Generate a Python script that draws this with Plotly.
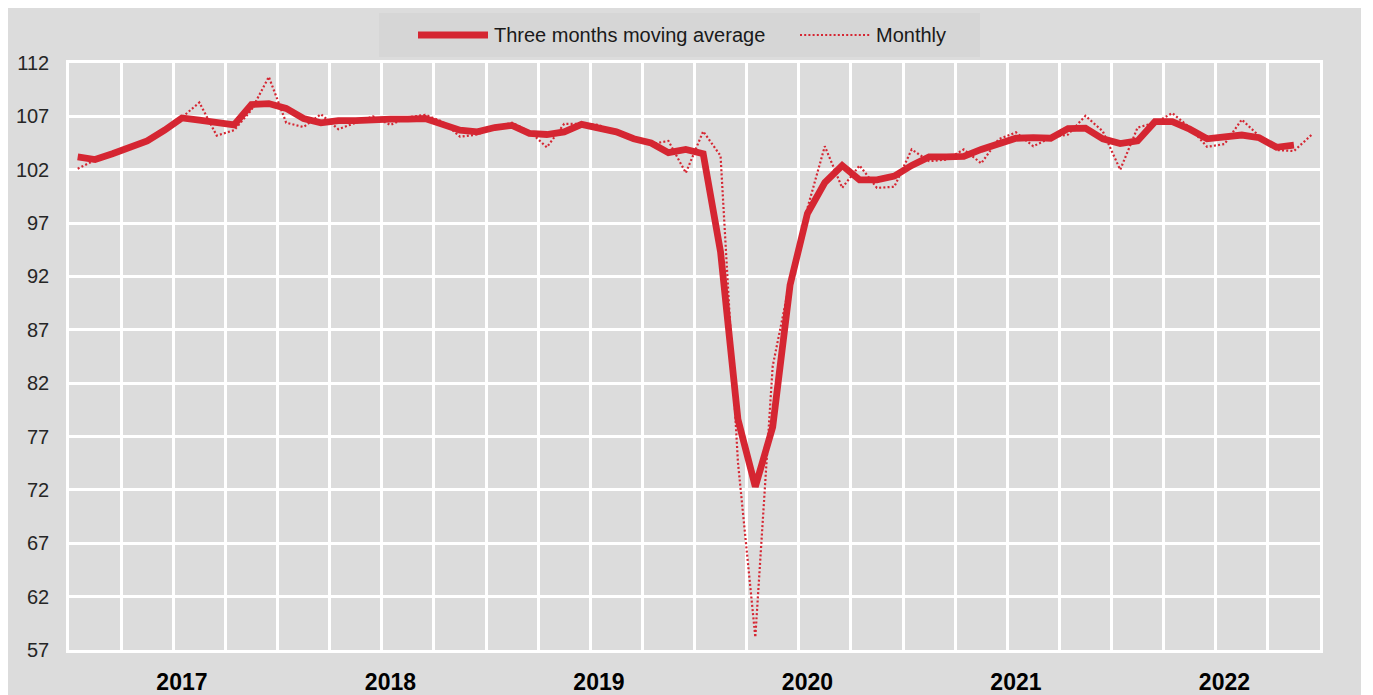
import plotly.graph_objects as go

# ---- data ----
months = [f"{y}-{m:02d}" for y in range(2017, 2023) for m in range(1, 13)]

monthly = [
    102.1, 102.9, 103.6, 104.1, 104.8, 105.6, 106.9, 108.3, 105.2, 105.7, 107.6, 110.7,
    106.4, 106.0, 107.2, 105.8, 106.4, 107.0, 106.2, 106.9, 107.15, 106.5, 105.1, 105.3,
    106.0, 106.4, 105.6, 104.1, 106.3, 106.3, 106.2, 105.4, 105.0, 104.4, 104.7, 101.7,
    105.6, 103.3, 74.6, 58.2, 83.6, 91.6, 98.4, 104.2, 100.3, 102.4, 100.3, 100.4,
    103.9, 102.8, 102.95, 103.9, 102.6, 104.85, 105.5, 104.2, 105.0, 105.3, 107.05, 105.6,
    102.0, 105.95, 106.4, 107.3, 105.95, 104.15, 104.4, 106.7, 105.15, 103.85, 103.75, 105.25,
]

moving_avg = [
    103.2, 102.95, 103.5, 104.05, 104.7, 105.7, 106.85, 106.65, 106.4, 106.2, 108.1, 108.2,
    107.75, 106.8, 106.4, 106.6, 106.6, 106.75, 106.75, 106.75, 106.8, 106.25, 105.7, 105.55,
    105.95, 106.15, 105.4, 105.3, 105.55, 106.25, 105.95, 105.55, 104.9, 104.5, 103.6, 103.9,
    103.5, 94.3, 78.6, 72.3, 77.9, 91.2, 97.9, 100.8, 102.4, 101.05, 101.05, 101.4,
    102.4, 103.2, 103.2, 103.25, 103.9, 104.5, 104.95, 105.0, 104.95, 105.85, 105.9, 104.9,
    104.45, 104.7, 106.5, 106.5, 105.8, 104.9, 105.05, 105.25, 105.0, 104.1, 104.3,
]

year_labels = ["2017", "2018", "2019", "2020", "2021", "2022"]
y_ticks = [57, 62, 67, 72, 77, 82, 87, 92, 97, 102, 107, 112]

series_names = ["Three months moving average", "Monthly"]

# ---- styling ----
RED = "#D52632"
BG = "#DCDCDC"
LEG_BG = "#D6D6D6"
FONT = "Liberation Sans, Arial, sans-serif"
DOT = "2px,2.2px"

x_ma = list(range(len(moving_avg)))
x_m = list(range(len(monthly)))
year_pos = [months.index(f"{y}-07") for y in year_labels]

fig = go.Figure()
fig.add_trace(go.Scatter(
    x=x_ma, y=moving_avg, mode="lines", name=series_names[0],
    line=dict(color=RED, width=6.8), text=months[:len(moving_avg)],
    hovertemplate="%{text}: %{y}<extra></extra>",
))
fig.add_trace(go.Scatter(
    x=x_m, y=monthly, mode="lines", name=series_names[1],
    line=dict(color=RED, width=2.2, dash=DOT), text=months,
    hovertemplate="%{text}: %{y}<extra></extra>",
))

W, H = 1353, 687          # page body has an 8px margin
OFF = 8
L, R, T, B = 61, 41, 55, 45
pw, ph = W - L - R, H - T - B


def px_x(page_x):
    return (page_x - OFF - L) / pw


def px_y(page_y):
    return (H - B - (page_y - OFF)) / ph


shapes = [
    # legend box
    dict(type="rect", xref="paper", yref="paper", layer="above",
         x0=px_x(379), x1=px_x(980), y0=px_y(57), y1=px_y(13),
         fillcolor=LEG_BG, line=dict(width=0)),
    # legend samples
    dict(type="line", xref="paper", yref="paper",
         x0=px_x(418), x1=px_x(488), y0=px_y(35), y1=px_y(35),
         line=dict(color=RED, width=6.8)),
    dict(type="line", xref="paper", yref="paper",
         x0=px_x(800), x1=px_x(870), y0=px_y(35), y1=px_y(35),
         line=dict(color=RED, width=2.2, dash=DOT)),
]

annotations = [
    dict(xref="paper", yref="paper", x=px_x(492), y=px_y(35), xanchor="left", yanchor="middle",
         text=series_names[0], showarrow=False,
         font=dict(family=FONT, size=20, color="#1a1a1a")),
    dict(xref="paper", yref="paper", x=px_x(874), y=px_y(35), xanchor="left", yanchor="middle",
         text=series_names[1], showarrow=False,
         font=dict(family=FONT, size=20, color="#1a1a1a")),
]

fig.update_layout(
    width=W, height=H,
    template="none",
    margin=dict(l=L, r=R, t=T, b=B, pad=0),
    paper_bgcolor=BG,
    plot_bgcolor=BG,
    showlegend=False,
    shapes=shapes,
    annotations=annotations,
    font=dict(family=FONT, size=20, color="#262626"),
)

fig.update_xaxes(
    range=[-0.5, len(months) - 0.5],
    tickmode="array", tickvals=year_pos, ticktext=year_labels,
    tickfont=dict(family=FONT, size=23, color="#000000", weight="bold"),
    showgrid=False, zeroline=False, ticks="", ticklen=0, ticklabelstandoff=10,
    showline=True, linecolor="white", linewidth=2.5, mirror=True,
    minor=dict(tick0=-0.5, dtick=3, showgrid=True, gridcolor="white", gridwidth=2.5, ticks=""),
    automargin=False,
)
fig.update_yaxes(
    range=[57, 112],
    tickmode="array", tickvals=y_ticks, ticktext=[str(v) for v in y_ticks],
    showgrid=True, gridcolor="white", gridwidth=2.8, zeroline=False, ticks="", ticklen=0,
    ticklabelstandoff=13,
    showline=True, linecolor="white", linewidth=2.5, mirror=True,
    tickfont=dict(family=FONT, size=20, color="#262626"),
    automargin=False,
)

fig.write_html("out.html")
